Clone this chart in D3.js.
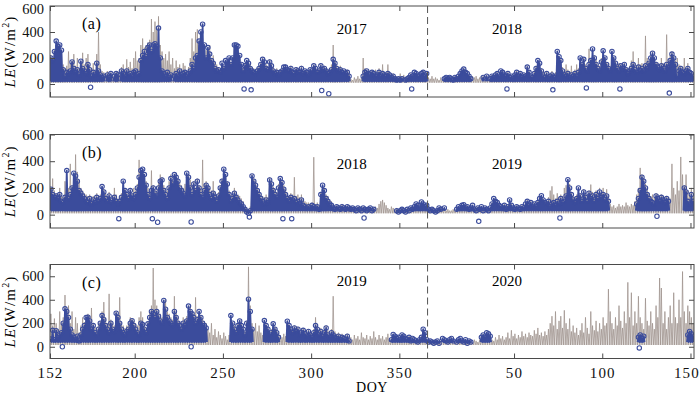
<!DOCTYPE html>
<html>
<head>
<meta charset="utf-8">
<script src="https://cdn.jsdelivr.net/npm/d3@7"></script>
<style>
  body { margin: 0; background: #fff; }
  svg { display: block; font-family: "Liberation Serif", "Times New Roman", serif; }
</style>
</head>
<body>
<div class="canvas"></div>
<script>
const _ = null

// x axis: day counted on from DOY 152, next year's DOY = day - 365
const xTickDays = [152, 200, 250, 300, 350, 415, 465, 515]
const xTickLabels = ['152', '200', '250', '300', '350', '50', '100', '150']
const yearStart = 366
const yTicks = [0, 200, 400, 600]
const yMin = [-100, -100, -100]
const yMax = [600, 600, 700]
const panelNames = ['(a)', '(b)', '(c)']
const yearLabels = [['2017', '2018'], ['2018', '2019'], ['2019', '2020']]
const yearLabelDays = [323, 411]
const yearLabelLE = [410, 370, 550]

// night-time LE under the daily cycle
const nightMod = [10, 10, 15]
const nightObs = [20, 30, 40]

// daily peak LE (W/m2), one value per day from DOY 152
const modA = [
  220,200,260,300,310,280,250,150,120,140, 250,160,180,230,140,200,120,160,240,150,
  200,230,140,120,160,110,230,400,150,100, 90,80,100,60,90,60,70,100,90,70,
  130,150,110,190,130,170,120,200,250,180, 200,300,350,280,300,320,340,500,400,480,
  420,520,300,250,200,230,180,250,150,200, 120,180,130,150,120,160,140,100,130,200,
  350,250,400,420,300,380,350,280,260,250, 300,200,220,170,150,130,120,150,140,160,
  180,190,170,200,280,260,250,210,160,130, 160,170,190,150,130,120,100,120,140,160,
  200,180,150,140,190,160,130,110,120,100, 110,120,140,150,130,120,140,110,100,130,
  120,110,140,100,110,100,90,120,110,150, 130,110,120,150,130,140,120,110,120,150,
  300,180,150,130,140,120,110,100,110,90, 40,30,50,40,60,40,50,200,120,110,
  100,90,100,90,110,90,120,80,150,90, 80,150,90,70,80,60,60,50,80,60,
  70,50,60,60,80,70,90,80,70,90, 80,100,80,90,50,40,60,40,50,40,
  30,50,40,50,60,50,60,50,40,60, 50,70,90,110,120,100,90,70,50,60,
  50,60,40,50,60,60,50,70,50,60, 70,60,80,90,70,100,100,80,70,90,
  60,70,60,80,100,70,90,60,80,70, 140,100,70,60,100,140,170,150,120,100,
  80,100,70,80,100,70,90,220,200,190, 130,100,150,110,100,140,90,110,150,120,
  180,160,200,150,130,270,200,250,220,190, 150,140,200,240,210,170,160,140,230,210,
  180,150,160,150,140,160,130,120,140,180, 250,160,140,200,150,160,150,370,200,180,
  220,250,200,170,160,150,200,160,150,380, 180,220,250,220,180,200,150,140,130,200,
  120,160,110,100,90
]
const obsA = [
  200,180,250,330,290,300,260,110,60,90, 80,100,170,120,90,110,70,175,120,100,
  80,150,110,60,90,70,160,100,70,50, 60,_,70,50,80,_,60,80,70,_,
  100,80,60,100,70,80,60,90,100,70, 80,180,220,250,210,280,300,250,300,310,
  290,430,200,100,80,60,90,50,70,_, 60,80,60,100,70,80,90,60,80,100,
  150,120,200,220,330,400,460,300,200,280, 230,180,160,120,100,110,90,160,120,180,
  170,200,150,200,300,300,290,220,150,100, 140,180,160,120,100,90,80,100,120,150,
  190,170,120,110,170,140,100,80,90,70, 90,100,130,130,110,100,120,90,80,110,
  100,90,120,80,100,90,70,110,100,140, 120,90,100,140,110,120,100,80,90,110,
  190,160,120,100,110,90,100,80,90,60, _,_,_,_,_,_,_,60,90,100,
  80,70,90,80,60,70,90,60,80,70, 60,80,70,50,60,40,30,40,30,40,
  _,30,40,50,70,60,90,80,60,70, 80,90,60,80,_,_,_,_,_,_,
  _,_,_,40,50,40,50,40,30,50, 40,60,80,100,115,90,80,60,40,_,
  _,_,_,_,_,50,_,60,_,40, 60,50,70,80,60,100,90,70,60,80,
  50,60,40,70,90,60,80,50,70,60, 130,90,60,50,80,120,180,160,100,60,
  50,80,40,60,70,50,60,250,210,180, 100,70,60,80,50,70,60,80,60,90,
  200,150,190,120,100,150,180,270,200,150, 120,100,170,255,200,150,120,100,250,200,
  160,120,100,140,120,150,110,80,100,120, 150,110,90,130,100,120,100,140,120,160,
  200,237,200,150,130,110,140,120,100,150, 130,180,230,200,150,60,100,120,90,80,
  100,120,90,80,60
]
const modB = [
  200,270,180,160,150,200,140,130,250,240, 200,380,220,300,450,320,260,200,180,160,
  150,140,150,120,140,130,160,140,150,200, 190,160,140,170,120,140,200,150,120,140,
  160,230,200,170,150,190,160,200,180,230, 410,300,320,280,250,200,180,330,220,190,
  180,240,300,280,220,200,180,250,300,260, 290,310,270,240,220,200,230,290,300,260,
  220,250,200,270,220,200,410,230,250,220, 200,180,250,170,150,170,220,270,320,290,
  250,180,150,160,200,170,150,140,120,100, 60,50,40,60,300,270,250,210,180,150,
  140,130,150,130,280,250,210,190,170,230, 260,250,220,190,160,140,160,150,280,140,
  150,130,150,120,100,90,90,80,90,430, 80,90,70,170,210,200,150,140,110,100,
  80,60,70,60,60,80,60,60,70,60, 50,60,50,50,60,50,40,60,50,40,
  50,60,40,50,60,50,80,100,110,90, 70,50,40,60,50,40,50,40,40,50,
  40,40,50,40,60,50,70,80,80,60, 90,90,70,80,50,40,50,40,30,40,
  50,50,40,50,30,40,30,30,40,30, 50,60,60,70,80,60,70,50,60,70,
  50,40,60,50,60,40,60,50,40,60, 90,120,110,100,80,70,60,80,60,70,
  100,80,60,50,70,60,50,70,60,90, 110,80,100,70,90,70,100,130,140,120,
  100,100,130,180,212,150,120,160,130,150, 140,200,220,260,230,170,140,130,150,190,
  160,140,190,160,150,180,225,170,150,180, 160,200,160,200,150,190,140,80,60,70,
  50,60,80,60,70,60,90,70,60,80, 70,100,150,200,350,300,270,230,200,160,
  140,150,130,160,150,140,150,140,130,140, 130,120,380,200,150,250,180,432,300,220,
  300,180,150,200,140
]
const obsB = [
  190,150,130,140,120,150,100,90,130,330, 120,150,200,310,290,250,180,160,140,120,
  100,90,120,80,110,90,130,100,120,210, 170,120,100,140,90,110,130,100,80,100,
  130,250,180,150,120,180,140,120,150,200, 280,330,340,300,220,150,120,180,200,160,
  140,200,250,260,180,150,120,200,270,230, 300,280,250,200,180,160,140,310,280,200,
  150,230,180,250,200,150,130,180,220,200, 150,120,160,130,100,140,200,250,340,300,
  230,150,100,120,160,130,110,90,80,60, 40,20,10,30,290,250,220,180,150,120,
  100,80,110,90,260,230,180,150,130,200, 270,240,190,150,120,100,130,110,120,90,
  100,80,110,70,60,50,60,50,70,60, 50,60,40,150,220,180,120,100,80,70,
  50,40,60,50,40,60,50,40,60,50, 40,50,40,30,50,40,30,50,40,30,
  40,50,30,40,_,_,_,_,_,_, _,_,_,_,_,_,30,20,30,40,
  30,20,40,30,50,40,60,80,70,50, 95,80,60,70,40,30,40,30,20,30,
  50,40,_,50,_,_,_,_,_,_, 40,60,50,70,75,50,60,40,50,70,
  40,30,50,40,60,30,50,40,30,50, 80,120,100,90,70,60,50,70,40,60,
  110,70,50,40,60,50,40,60,50,80, 100,70,90,60,80,60,90,120,142,110,
  90,80,100,60,80,90,70,100,80,120, 90,100,140,262,200,150,110,90,120,200,
  140,100,170,130,100,160,120,140,100,150, 120,170,130,150,110,140,100,_,_,_,
  _,_,_,_,_,_,_,_,_,_, _,_,80,120,180,280,250,200,150,120,
  100,90,80,140,120,100,130,110,90,120, 100,_,_,_,_,_,_,_,_,200,
  170,100,80,150,100
]
const modC = [
  280,180,240,200,150,300,200,250,440,320, 350,200,300,150,250,200,120,180,250,210,
  230,280,260,330,200,170,150,200,220,300, 380,250,200,450,230,200,180,300,280,420,
  200,180,160,180,200,250,240,220,200,180, 250,300,250,200,160,210,300,350,670,400,
  350,300,280,250,380,400,300,280,250,230, 430,300,250,220,200,250,230,260,320,350,
  300,280,420,260,290,270,240,220,200,150, 120,200,100,150,80,130,100,70,120,90,
  60,100,230,210,180,160,200,230,200,180, 130,220,680,350,200,150,200,130,180,120,
  100,210,190,170,130,150,200,170,150,120, 100,80,110,90,210,190,170,150,180,160,
  170,140,150,160,140,120,150,130,120,150, 250,180,140,160,130,150,180,140,120,150,
  430,130,110,120,100,110,100,90,110,90, 80,60,100,70,90,60,120,80,70,100,
  60,90,70,130,80,60,100,70,90,60, 80,110,70,80,110,100,80,90,70,110,
  100,80,70,90,60,80,70,60,50,70, 90,140,120,70,50,60,50,40,50,60,
  40,50,70,70,60,50,70,80,60,40, 50,60,70,60,50,60,40,60,50,40,
  60,50,40,60,90,110,90,120,110,100, 60,50,80,60,100,70,90,60,80,120,
  70,140,90,110,70,100,80,130,90,110, 80,120,100,90,140,110,160,100,120,90,
  130,100,150,200,260,180,300,150,220,260, 160,310,200,150,240,130,180,120,160,100,
  140,200,120,250,160,110,300,180,140,220, 130,200,150,250,180,200,490,300,200,150,
  250,180,350,220,160,300,200,548,250,460, 180,300,200,430,250,200,150,413,220,180,
  300,200,150,350,250,585,500,200,300,150, 250,350,200,460,250,200,400,250,640,300,
  200,350,300,250,200
]
const obsC = [
  65,140,60,137,80,100,120,200,323,300, 250,150,100,80,60,90,50,100,150,180,
  250,251,220,150,180,120,100,150,200,265, 230,180,150,120,200,150,130,285,250,200,
  150,120,100,130,150,200,222,180,150,120, 100,200,190,150,120,195,250,300,280,250,
  300,260,220,200,394,320,250,220,200,180, 300,250,200,180,150,200,180,220,346,300,
  280,250,200,230,300,250,200,180,160,_, _,_,_,_,_,_,_,_,_,_,
  _,_,265,200,150,120,180,220,180,150, 100,200,405,300,150,_,_,_,_,_,
  _,223,180,150,100,120,195,150,120,80, _,_,_,_,217,180,150,120,160,130,
  150,100,120,140,110,90,130,100,80,120, 180,150,100,130,90,120,160,100,80,120,
  100,80,70,90,60,80,70,60,90,50, _,_,_,_,_,_,_,_,_,_,
  _,_,_,_,_,_,_,_,_,_, _,_,_,60,105,90,70,80,60,100,
  90,70,60,80,50,70,60,50,40,60, 80,150,120,60,40,50,40,30,40,50,
  30,_,70,60,50,40,60,70,50,_, 40,60,70,50,40,60,30,50,40,_,
  _,_,_,_,80,100,80,120,110,90, _,_,_,_,_,_,_,_,_,_,
  _,_,_,_,_,_,_,_,_,_, _,_,_,_,_,_,_,_,_,_,
  _,_,_,_,_,_,_,_,_,_, _,_,_,_,_,_,_,_,_,_,
  _,_,_,_,_,_,_,_,_,_, _,_,_,_,_,_,_,_,_,_,
  _,_,_,_,_,_,_,_,_,_, _,_,_,80,100,70,90,_,_,_,
  _,_,_,_,_,_,_,_,_,_, _,_,_,_,_,_,_,_,_,_,
  _,100,130,110,90
]

// single observed points that fall below the cycle [day, LE]
const lowA = [[175,-25],[262,-38],[266,-45],[306,-50],[310,-75],[357,-38],[411,-38],[437,-45],[456,-30],[475,-38],[503,-70]]
const lowB = [[191,-30],[210,-30],[213,-57],[232,-55],[265,-18],[284,-30],[289,-30],[330,-25],[395,-50],[441,-25],[496,-12]]
const lowC = [[159,0],[232,0],[486,-10]]

const modSeries = [modA, modB, modC]
const obsSeries = [obsA, obsB, obsC]
const lowSeries = [lowA, lowB, lowC]

const width = 700, height = 394
const margin = { left: 50, right: 6 }
const panels = [[6, 97], [134.5, 228], [264.5, 358.5]]
const grey = '#9d928c'
const blue = '#3b4c9c'
const axisColor = '#4a4a4a'

const svg = d3.select('.canvas')
  .append('svg')
  .attr('width', width)
  .attr('height', height)

const x = d3.scaleLinear()
  .domain([152, 152 + 365])
  .range([margin.left, width - margin.right])

panels.forEach(([top, bottom], p) => {
  const y = d3.scaleLinear()
    .domain([yMin[p], yMax[p]])
    .range([bottom, top])

  const g = svg.append('g')

  g.append('clipPath').attr('id', `clip${p}`)
    .append('rect')
    .attr('x', x.range()[0]).attr('y', top)
    .attr('width', x.range()[1] - x.range()[0]).attr('height', bottom - top)

  const plot = g.append('g').attr('clip-path', `url(#clip${p})`)

  const line = d3.line()
    .defined(d => d)
    .x(d => x(d[0]))
    .y(d => y(d[1]))

  // modelled LE as a daily cycle, night -> midday peak
  const mod = modSeries[p]
  const modPts = mod.flatMap((v, i) => [[152 + i, nightMod[p]], [152 + i + 0.5, v]])
  modPts.push([152 + mod.length, nightMod[p]])
  plot.append('path')
    .attr('d', line(modPts))
    .attr('fill', 'none')
    .attr('stroke', grey)
    .attr('stroke-width', 0.75)

  // observed LE
  const obs = obsSeries[p]
  const obsPts = obs.flatMap((v, i) => v == null ? [null]
    : [[152 + i, nightObs[p]], [152 + i + 0.5, v], [152 + i + 1, nightObs[p]]])
  plot.append('path')
    .attr('d', line(obsPts))
    .attr('fill', 'none')
    .attr('stroke', blue)
    .attr('stroke-width', 1.8)
    .attr('stroke-linejoin', 'round')

  const peaks = obs.map((v, i) => [152 + i + 0.5, v]).filter(d => d[1] != null)
  plot.selectAll('circle.peak')
    .data(peaks.concat(lowSeries[p]))
    .enter().append('circle')
      .attr('cx', d => x(d[0]))
      .attr('cy', d => y(d[1]))
      .attr('r', 2.2)
      .attr('fill', 'none')
      .attr('stroke', blue)
      .attr('stroke-width', 1.1)

  // year boundary
  g.append('line')
    .attr('x1', x(yearStart)).attr('x2', x(yearStart))
    .attr('y1', top).attr('y2', bottom)
    .attr('stroke', '#555')
    .attr('stroke-width', 1)
    .attr('stroke-dasharray', '7,4')

  // axes with inward ticks on all four sides
  const fmtX = (d, i) => p === 2 ? xTickLabels[i] : ''
  const xBottom = g.append('g').attr('transform', `translate(0,${bottom})`)
    .call(d3.axisBottom(x).tickValues(xTickDays).tickSize(-5).tickPadding(9).tickFormat(fmtX))
  g.append('g').attr('transform', `translate(0,${top})`)
    .call(d3.axisTop(x).tickValues(xTickDays).tickSize(-5).tickFormat(''))
  const yLeft = g.append('g').attr('transform', `translate(${x.range()[0]},0)`)
    .call(d3.axisLeft(y).tickValues(yTicks).tickSize(-5).tickPadding(6))
  g.append('g').attr('transform', `translate(${x.range()[1]},0)`)
    .call(d3.axisRight(y).tickValues(yTicks).tickSize(-5).tickFormat(''))

  g.selectAll('.domain').remove()
  g.selectAll('.tick line').attr('stroke', axisColor)
  g.selectAll('.tick text')
    .attr('fill', '#111')
    .style('font-family', '"Liberation Serif", "Times New Roman", serif')
    .style('font-size', '14.5px')
  xBottom.selectAll('.tick text')
    .style('font-size', '15px')
    .style('letter-spacing', '1.2px')
  // keep the last label inside the page
  xBottom.selectAll('.tick text').filter((d, i) => i === xTickDays.length - 1)
    .attr('dx', -4)
  // top label of the first panel sits a little lower so it is not cut
  if (p === 0) yLeft.selectAll('.tick text').filter(d => d === 600).attr('dy', '0.5em')

  g.append('rect')
    .attr('x', x.range()[0]).attr('y', top)
    .attr('width', x.range()[1] - x.range()[0]).attr('height', bottom - top)
    .attr('fill', 'none')
    .attr('stroke', axisColor)
    .attr('stroke-width', 1)

  // panel letter and years
  g.append('text')
    .attr('x', 82).attr('y', top + 23)
    .attr('font-size', 16)
    .attr('letter-spacing', 0.5)
    .text(panelNames[p])

  yearLabels[p].forEach((t, k) => {
    g.append('text')
      .attr('x', x(yearLabelDays[k])).attr('y', y(yearLabelLE[p]))
      .attr('text-anchor', 'middle')
      .attr('dominant-baseline', 'middle')
      .attr('font-size', 15)
      .text(t)
  })

  // y label
  const yl = g.append('text')
    .attr('transform', `translate(15,${(top + bottom) / 2}) rotate(-90)`)
    .attr('text-anchor', 'middle')
    .attr('font-size', 15)
    .attr('letter-spacing', 1.2)
  yl.append('tspan').attr('font-style', 'italic').text('LE')
  yl.append('tspan').text('(W/m')
  yl.append('tspan').attr('font-size', 10).attr('dy', -6).text('2')
  yl.append('tspan').attr('dy', 6).text(')')
})

svg.append('text')
  .attr('x', (x.range()[0] + x.range()[1]) / 2)
  .attr('y', 392)
  .attr('text-anchor', 'middle')
  .attr('font-size', 14)
  .attr('letter-spacing', 0.5)
  .text('DOY')
</script>
</body>
</html>
